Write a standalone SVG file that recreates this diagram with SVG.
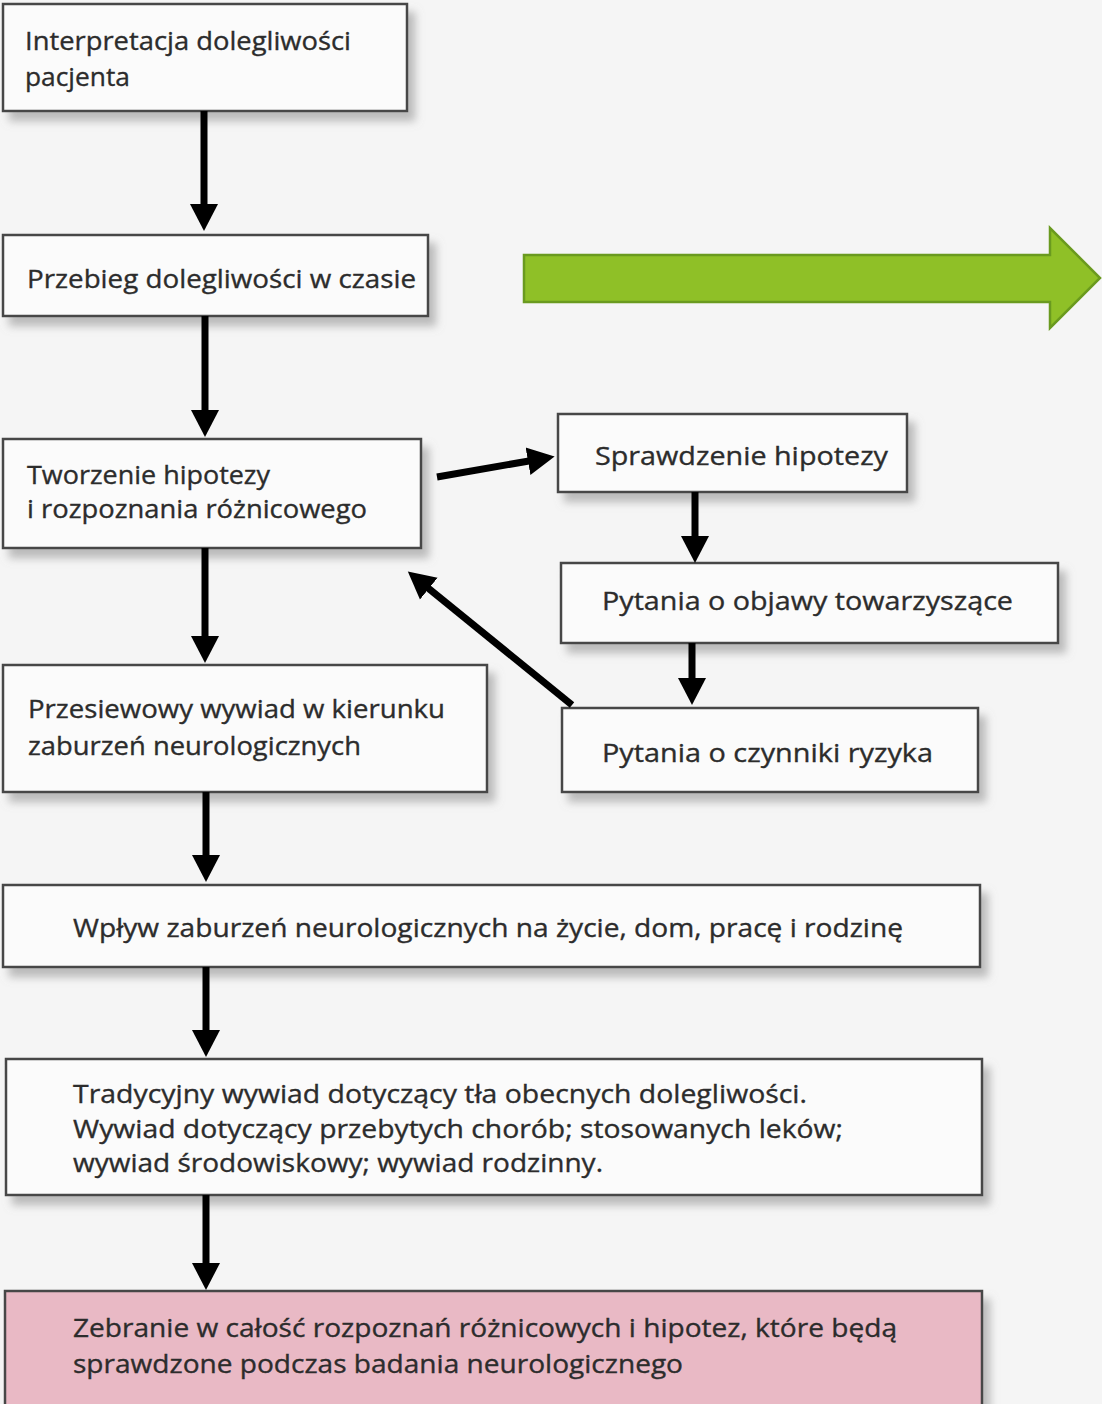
<svg xmlns="http://www.w3.org/2000/svg" width="1102" height="1404" viewBox="0 0 1102 1404">
  <defs>
    <filter id="shadow" x="-10%" y="-20%" width="130%" height="160%">
      <feDropShadow dx="7" dy="9" stdDeviation="4" flood-color="#8a8a8a" flood-opacity="0.55"/>
    </filter>
    <marker id="head" viewBox="0 -15 28 30" refX="1" refY="0" markerWidth="28" markerHeight="30" markerUnits="userSpaceOnUse" orient="auto">
      <path d="M0,-14 L27,0 L0,14 Z" fill="#000"/>
    </marker>
    <style>
      .box { fill: #fbfbfb; stroke: #474747; stroke-width: 2.5; filter: url(#shadow); }
      .pink { fill: #e9b9c5; stroke: #474747; stroke-width: 2.5; filter: url(#shadow); }
      .t { font-family: "Open Sans", "Noto Sans", "DejaVu Sans", sans-serif; font-size: 26px; fill: #2c2c2c; stroke: #2c2c2c; stroke-width: 0.35; }
      .c { fill: none; stroke: #000; stroke-width: 7; marker-end: url(#head); }
    </style>
  </defs>

  <rect x="0" y="0" width="1102" height="1404" fill="#f5f5f5"/>

  <g id="green-arrow">
    <path d="M524,255 L1050,255 L1050,228 L1100,278 L1050,328 L1050,302 L524,302 Z" fill="#8fc027" stroke="#6a9a1f" stroke-width="2.5" stroke-linejoin="miter"/>
  </g>

  <g id="n1">
    <rect class="box" x="3" y="4" width="404" height="107"/>
    <text class="t" x="25" y="50" textLength="326" lengthAdjust="spacingAndGlyphs">Interpretacja dolegliwości</text>
    <text class="t" x="25" y="86" textLength="105" lengthAdjust="spacingAndGlyphs">pacjenta</text>
  </g>

  <g id="n2">
    <rect class="box" x="3" y="235" width="425" height="81"/>
    <text class="t" x="27" y="288" textLength="389" lengthAdjust="spacingAndGlyphs">Przebieg dolegliwości w czasie</text>
  </g>

  <g id="n3">
    <rect class="box" x="3" y="439" width="418" height="109"/>
    <text class="t" x="27" y="484" textLength="243" lengthAdjust="spacingAndGlyphs">Tworzenie hipotezy</text>
    <text class="t" x="27" y="518" textLength="340" lengthAdjust="spacingAndGlyphs">i rozpoznania różnicowego</text>
  </g>

  <g id="n4">
    <rect class="box" x="558" y="414" width="349" height="78"/>
    <text class="t" x="595" y="465" textLength="293" lengthAdjust="spacingAndGlyphs">Sprawdzenie hipotezy</text>
  </g>

  <g id="n5">
    <rect class="box" x="561" y="563" width="497" height="80"/>
    <text class="t" x="602" y="610" textLength="411" lengthAdjust="spacingAndGlyphs">Pytania o objawy towarzyszące</text>
  </g>

  <g id="n6">
    <rect class="box" x="562" y="708" width="416" height="84"/>
    <text class="t" x="602" y="762" textLength="331" lengthAdjust="spacingAndGlyphs">Pytania o czynniki ryzyka</text>
  </g>

  <g id="n7">
    <rect class="box" x="3" y="665" width="484" height="127"/>
    <text class="t" x="28" y="718" textLength="417" lengthAdjust="spacingAndGlyphs">Przesiewowy wywiad w kierunku</text>
    <text class="t" x="28" y="755" textLength="333" lengthAdjust="spacingAndGlyphs">zaburzeń neurologicznych</text>
  </g>

  <g id="n8">
    <rect class="box" x="3" y="885" width="977" height="82"/>
    <text class="t" x="73" y="937" textLength="830" lengthAdjust="spacingAndGlyphs">Wpływ zaburzeń neurologicznych na życie, dom, pracę i rodzinę</text>
  </g>

  <g id="n9">
    <rect class="box" x="6" y="1059" width="976" height="136"/>
    <text class="t" x="73" y="1103" textLength="734" lengthAdjust="spacingAndGlyphs">Tradycyjny wywiad dotyczący tła obecnych dolegliwości.</text>
    <text class="t" x="73" y="1138" textLength="770" lengthAdjust="spacingAndGlyphs">Wywiad dotyczący przebytych chorób; stosowanych leków;</text>
    <text class="t" x="73" y="1172" textLength="530" lengthAdjust="spacingAndGlyphs">wywiad środowiskowy; wywiad rodzinny.</text>
  </g>

  <g id="n10">
    <rect class="pink" x="5" y="1291" width="977" height="140"/>
    <text class="t" x="73" y="1337" textLength="824" lengthAdjust="spacingAndGlyphs">Zebranie w całość rozpoznań różnicowych i hipotez, które będą</text>
    <text class="t" x="73" y="1373" textLength="610" lengthAdjust="spacingAndGlyphs">sprawdzone podczas badania neurologicznego</text>
  </g>

  <g id="connectors">
    <path class="c" d="M204,111 L204,205"/>
    <path class="c" d="M205,316 L205,411"/>
    <path class="c" d="M205,548 L205,637"/>
    <path class="c" d="M206,792 L206,856"/>
    <path class="c" d="M206,967 L206,1031"/>
    <path class="c" d="M206,1195 L206,1264"/>
    <path class="c" d="M437,477 L529,461"/>
    <path class="c" d="M695,492 L695,537"/>
    <path class="c" d="M692,643 L692,679"/>
    <path class="c" d="M572,705 L428,588"/>
  </g>
</svg>
